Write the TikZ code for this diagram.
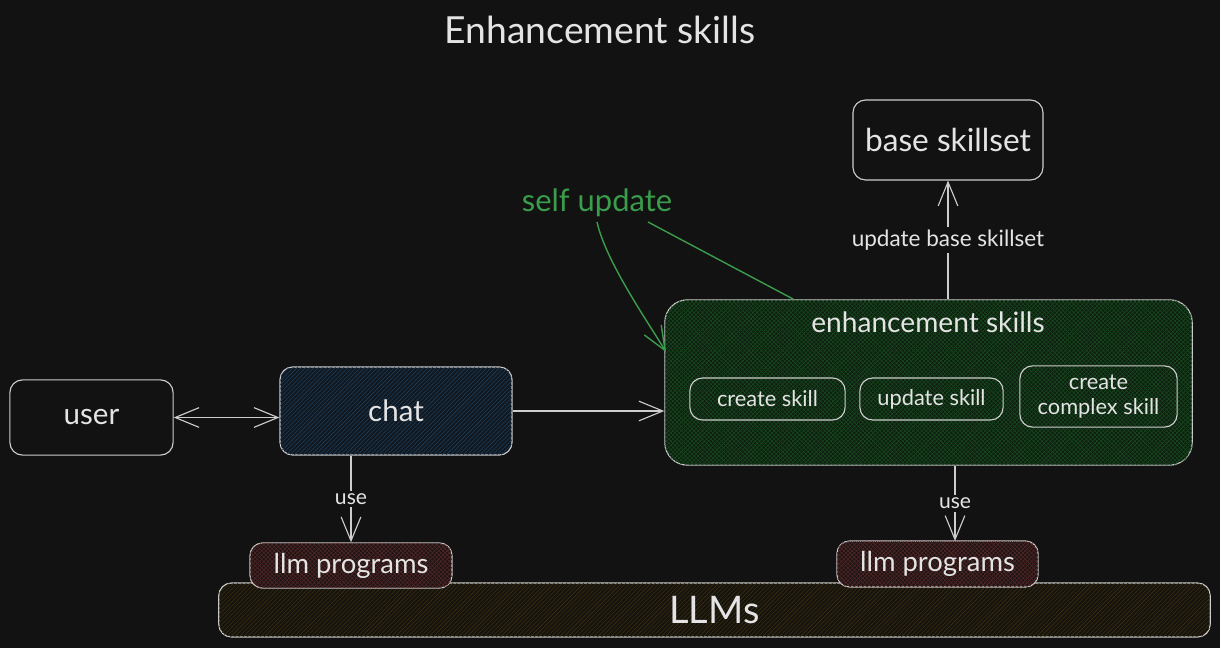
\documentclass[tikz,border=0pt]{standalone}
\usepackage{fontspec}
\setmainfont{Lato}
\usetikzlibrary{arrows.meta,patterns}

\definecolor{bg}{HTML}{121212}
\definecolor{ink}{HTML}{E4E4E4}
\definecolor{edge}{HTML}{CDCDCD}
\definecolor{selfgreen}{HTML}{3A9D4B}
\definecolor{chatfill}{HTML}{111820}
\definecolor{chatline}{HTML}{1C3D5A}
\definecolor{enhfill}{HTML}{0E1E10}
\definecolor{enhline}{HTML}{17481E}
\definecolor{llmfill}{HTML}{1E1414}
\definecolor{llmline}{HTML}{512626}
\definecolor{basefill}{HTML}{15130E}
\definecolor{baseline}{HTML}{3A2E10}

\tikzset{
  box/.style={draw=edge, line width=0.8pt, rounded corners=9pt, text=ink, inner sep=0pt, align=center},
  chatbox/.style={box, fill=chatfill, postaction={pattern=north east lines, pattern color=chatline}},
  enhbox/.style={box, rounded corners=16pt, fill=enhfill, postaction={pattern=crosshatch, pattern color=enhline}},
  llmbox/.style={box, fill=llmfill, postaction={pattern=crosshatch, pattern color=llmline}},
  basebox/.style={box, fill=basefill, postaction={pattern=north east lines, pattern color=baseline}},
  arr/.style={draw=edge, line width=0.8pt, -{Straight Barb[length=17pt,width=14pt]}},
  lbl/.style={fill=bg, text=ink, inner sep=2pt, font=\fontsize{15}{17}\selectfont},
}

\begin{document}
\begin{tikzpicture}[x=0.025cm, y=-0.025cm]
        \fill[bg] (0,0) rectangle (1220,648);

        \node[text=ink, font=\fontsize{26.5}{30}\selectfont] (title) at (600,30) {Enhancement skills};

        \node[box, minimum width=4.08cm, minimum height=1.88cm, font=\fontsize{21}{24}\selectfont] (user) at (91.5,417.5) {user};
        \node[chatbox, minimum width=5.8cm, minimum height=2.2cm, font=\fontsize{21}{24}\selectfont] (chat) at (396,411) {chat};

        \node[enhbox, minimum width=13.18cm, minimum height=4.13cm] (enh) at (928.5,382.5) {};
        \node[text=ink, font=\fontsize{20}{23}\selectfont] (enhtitle) at (928,322) {enhancement skills};
        \node[box, minimum width=3.88cm, minimum height=1.05cm, font=\fontsize{15.5}{18}\selectfont] (create) at (767.5,399) {create skill};
        \node[box, minimum width=3.58cm, minimum height=1.05cm, font=\fontsize{15.5}{18}\selectfont] (update) at (931.5,399) {update skill};
        \node[box, minimum width=3.93cm, minimum height=1.53cm, font=\fontsize{15.5}{18}\selectfont] (complex) at (1098.5,396.5) {create\\complex skill};

        \node[box, minimum width=4.75cm, minimum height=2.0cm, font=\fontsize{22.5}{26}\selectfont] (base) at (948,140) {base skillset};

        \node[basebox, minimum width=24.78cm, minimum height=1.35cm, font=\fontsize{27}{30}\selectfont] (llms) at (714.5,610) {LLMs};
        \node[llmbox, minimum width=5.05cm, minimum height=1.13cm, font=\fontsize{19.5}{22}\selectfont] (llm1) at (351,565.5) {llm programs};
        \node[llmbox, minimum width=5.03cm, minimum height=1.15cm, font=\fontsize{19.5}{22}\selectfont] (llm2) at (937.5,564) {llm programs};

        \node[text=selfgreen, font=\fontsize{22}{25}\selectfont] (self) at (597,203) {self update};
        \coordinate (selftip) at (666,352);
        \coordinate (selfline) at (648,222);
        \coordinate (selfend) at (793,299);
        \coordinate (usetip) at (955,541);

        \draw[arr, {Straight Barb[length=17pt,width=14pt]}-{Straight Barb[length=17pt,width=14pt]}] (user.east) to (user.east -| chat.west);
        \draw[arr] (chat.east) to (chat.east -| enh.west);
        \draw[arr] (llm1.north |- chat.south) to node [lbl]{use} (llm1.north);
        \draw[arr] (enh.south -| usetip) to node [lbl]{use} (usetip);
        \draw[arr] (base.south |- enh.north) to node [lbl, font=\fontsize{16}{18}\selectfont]{update base skillset} (base.south);

        \draw[arr, draw=selfgreen, line width=1pt] (self.south) .. controls (606,262) and (648,322) .. (selftip);
        \draw[draw=selfgreen, line width=1pt] (selfline) to (selfend);

      \end{tikzpicture}
\end{document}
